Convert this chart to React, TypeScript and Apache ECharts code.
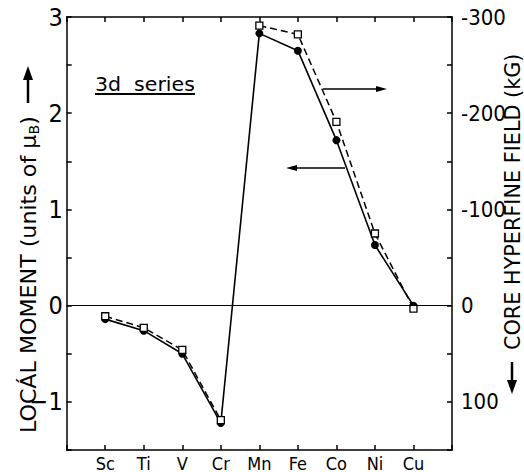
import React, { useEffect, useRef } from "react";
import * as echarts from "echarts";

const elements = ["Sc", "Ti", "V", "Cr", "Mn", "Fe", "Co", "Ni", "Cu"];
const localMoment = [-0.14, -0.26, -0.5, -1.22, 2.83, 2.65, 1.72, 0.63, 0.0];
const hyperfineField = [11, 23, 46, 119, -291, -282, -191, -75, 3];
const fieldBreakAfter = "Cr";
const leftTickLabels = [-1, 0, 1, 2, 3];
const rightTickLabels = [-300, -200, -100, 0, 100];

const FONT = '"Liberation Sans Narrow", "DejaVu Sans Condensed", "DejaVu Sans", sans-serif';

export default function App() {
  const ref = useRef<HTMLDivElement>(null);
  useEffect(() => {
    document.body.style.margin = "0";
    const chart = echarts.init(ref.current!, null, { renderer: "svg" });
    const cats = ["", ...elements, ""];
    const breakIdx = elements.indexOf(fieldBreakAfter);
    const momentData = [null, ...localMoment, null];
    const fieldA = [null, ...hyperfineField.map((v, i) => (i <= breakIdx ? v : null)), null];
    const fieldB = [null, ...hyperfineField.map((v, i) => (i > breakIdx ? v : null)), null];
    const axisLine = { show: true, onZero: false, lineStyle: { color: "#000", width: 1.5 } };
    const axisTick = { show: true, inside: true, length: 5, interval: 0, lineStyle: { color: "#000", width: 1.5 } };
    const dashedSeries = (data: any[]) => ({
      type: "line",
      yAxisIndex: 1,
      data,
      symbol: "rect",
      symbolSize: 7,
      connectNulls: false,
      lineStyle: { color: "#000", width: 1.5, type: [7, 4] },
      itemStyle: { color: "#fff", borderColor: "#000", borderWidth: 1.3 },
      z: 4,
    });
    const arrowHead = (x: number, y: number, dir: "l" | "r" | "u" | "d", len: number, hw: number) => {
      let pts: number[][] = [];
      if (dir === "r") pts = [[x, y], [x - len, y - hw], [x - len, y + hw]];
      if (dir === "l") pts = [[x, y], [x + len, y - hw], [x + len, y + hw]];
      if (dir === "u") pts = [[x, y], [x - hw, y + len], [x + hw, y + len]];
      if (dir === "d") pts = [[x, y], [x - hw, y - len], [x + hw, y - len]];
      return { type: "polygon", shape: { points: pts }, style: { fill: "#000" } };
    };
    chart.setOption({
      animation: false,
      grid: { left: 66.7, right: 72, top: 17, bottom: 20, containLabel: false },
      xAxis: [
        {
          type: "category",
          data: cats,
          boundaryGap: false,
          position: "bottom",
          axisLine,
          axisTick,
          axisLabel: { color: "#000", fontSize: 18, fontFamily: FONT, margin: 4, interval: 0 },
          splitLine: { show: false },
        },
        {
          type: "category",
          data: cats,
          boundaryGap: false,
          position: "top",
          axisLine,
          axisTick,
          axisLabel: { show: false },
          splitLine: { show: false },
        },
      ],
      yAxis: [
        {
          type: "value",
          min: -1.5,
          max: 3,
          interval: 0.5,
          position: "left",
          axisLine,
          axisTick: { ...axisTick, interval: "auto" },
          axisLabel: {
            color: "#000",
            fontSize: 25,
            fontFamily: FONT,
            margin: 4,
            showMinLabel: true,
            showMaxLabel: true,
            formatter: (v: number) => (leftTickLabels.includes(v) ? (v < 0 ? "\u2212" + Math.abs(v) : String(v)) : ""),
          },
          splitLine: { show: false },
        },
        {
          type: "value",
          min: -300,
          max: 150,
          interval: 50,
          inverse: true,
          position: "right",
          axisLine,
          axisTick: { ...axisTick, interval: "auto" },
          axisLabel: {
            color: "#000",
            fontSize: 22,
            fontFamily: FONT,
            margin: 9,
            formatter: (v: number) => (rightTickLabels.includes(v) ? String(v) : ""),
          },
          splitLine: { show: false },
        },
      ],
      series: [
        {
          type: "line",
          data: momentData,
          symbol: "circle",
          symbolSize: 8,
          lineStyle: { color: "#000", width: 1.6 },
          itemStyle: { color: "#000" },
          z: 3,
          markLine: {
            silent: true,
            symbol: "none",
            label: { show: false },
            lineStyle: { color: "#000", width: 1.2, type: "solid" },
            data: [{ yAxis: 0 }],
          },
        },
        dashedSeries(fieldA),
        dashedSeries(fieldB),
      ],
      graphic: [
        {
          type: "text",
          x: 95,
          y: 74,
          scaleX: 1.14,
          style: { text: "3d  series", font: `20px ${FONT}`, fill: "#000", textVerticalAlign: "top" },
        },
        { type: "line", shape: { x1: 95, y1: 94, x2: 195, y2: 94 }, style: { stroke: "#000", lineWidth: 1.8 } },
        { type: "line", shape: { x1: 323, y1: 89, x2: 380, y2: 89 }, style: { stroke: "#000", lineWidth: 1.3 } },
        arrowHead(387, 89, "r", 11, 3),
        { type: "line", shape: { x1: 345, y1: 168, x2: 293, y2: 168 }, style: { stroke: "#000", lineWidth: 1.3 } },
        arrowHead(286, 168, "l", 11, 3),
        {
          type: "text",
          x: 28,
          y: 433,
          rotation: Math.PI / 2,
          scaleX: 1.12,
          style: {
            text: "{a|LOC\u00c1L MOMENT (units of \u03bc}{b|B}{a|)}",
            align: "left",
            verticalAlign: "middle",
            fill: "#000",
            rich: {
              a: { fontSize: 22, fontFamily: FONT, lineHeight: 26, verticalAlign: "middle" },
              b: { fontSize: 14, fontFamily: FONT, verticalAlign: "bottom" },
            },
          },
        },
        { type: "line", shape: { x1: 28, y1: 103, x2: 28, y2: 78 }, style: { stroke: "#000", lineWidth: 2.5 } },
        arrowHead(28, 66, "u", 14, 5),
        {
          type: "text",
          x: 512,
          y: 350,
          rotation: Math.PI / 2,
          scaleX: 1.05,
          style: {
            text: "CORE HYPERFINE FIELD (kG)",
            font: `22px ${FONT}`,
            align: "left",
            verticalAlign: "middle",
            fill: "#000",
          },
        },
        { type: "line", shape: { x1: 512, y1: 362, x2: 512, y2: 382 }, style: { stroke: "#000", lineWidth: 2.5 } },
        arrowHead(512, 394, "d", 14, 5),
      ],
    });
    return () => chart.dispose();
  }, []);
  return <div ref={ref} style={{ width: 524, height: 472 }} />;
}
